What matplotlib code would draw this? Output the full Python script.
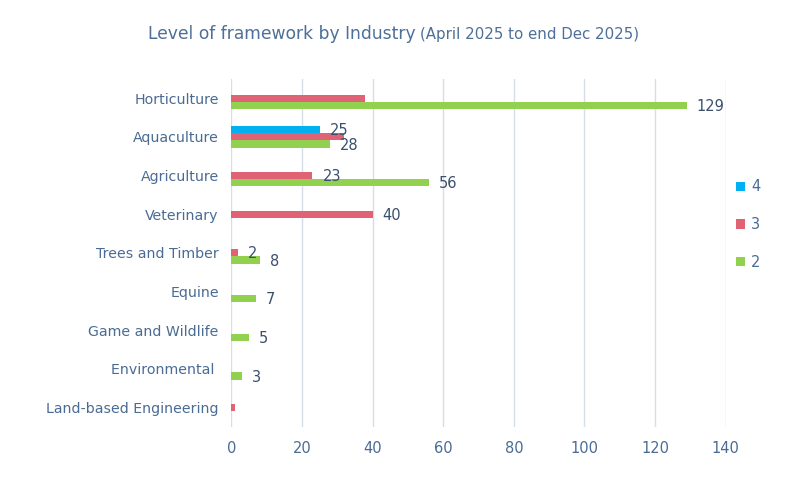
import matplotlib
matplotlib.use("Agg")
import matplotlib.pyplot as plt
import numpy as np

categories = ["Horticulture", "Aquaculture", "Agriculture", "Veterinary",
              "Trees and Timber", "Equine", "Game and Wildlife", "Environmental ",
              "Land-based Engineering"]
level4 = [0, 25, 0, 0, 0, 0, 0, 0, 0]
level3 = [38, 32, 23, 40, 2, 0, 0, 0, 1]
level2 = [129, 28, 56, 0, 8, 7, 5, 3, 0]
# which values carry a data label (as in the reference)
show4 = [False, True, False, False, False, False, False, False, False]
show3 = [False, False, True, True, True, False, False, False, False]
show2 = [True, True, True, False, True, True, True, True, False]
x_ticks = [0, 20, 40, 60, 80, 100, 120, 140]

plt.rcParams['font.family'] = ['DejaVu Sans']
tick_col = "#4A6B94"
lab_col = "#3A4F6E"
title_col = "#4E6F98"
grid_col = "#D5DEE8"
c4, c3, c2 = "#00B0F0", "#E06275", "#92D050"

fig = plt.figure(figsize=(8.1, 4.78), dpi=100)
ax = fig.add_axes([0.2855, 0.107, 0.6105, 0.728])

y = np.arange(len(categories))
h = 0.185
series = [(level4, show4, c4, -h, "4"), (level3, show3, c3, 0.0, "3"), (level2, show2, c2, h, "2")]
handles = []
for vals, show, col, off, name in series:
    bars = ax.barh(y + off, vals, height=h, color=col, label=name, zorder=3)
    handles.append(bars)
    for yi, v, s in zip(y, vals, show):
        if s:
            ax.annotate(str(v), xy=(v, yi + off), xytext=(10, -1), textcoords="offset pixels",
                        va="center", ha="left", fontsize=10.5, color=lab_col, zorder=4)

ax.set_xlim(0, 140)
ax.set_ylim(len(categories) - 0.5, -0.5)
ax.set_xticks(x_ticks)
ax.set_yticks(y)
ax.set_yticklabels(categories)
ax.tick_params(axis="x", colors=tick_col, labelsize=10.5, length=0, pad=10)
ax.tick_params(axis="y", colors=tick_col, labelsize=10.2, length=0, pad=9)
ax.xaxis.grid(True, color=grid_col, linewidth=1, zorder=0)
for s in ax.spines.values():
    s.set_visible(False)

leg = fig.legend(handles=handles, labels=["4", "3", "2"], loc="upper left",
                 bbox_to_anchor=(0.893, 0.652), frameon=False, fontsize=10.5,
                 handlelength=0.6, handleheight=0.6, handletextpad=0.4,
                 labelspacing=1.55, labelcolor=tick_col)

t1 = fig.text(0.183, 0.928, "Level of framework by Industry", fontsize=12.3, color=title_col,
              ha="left", va="center")
fig.canvas.draw()
bb = t1.get_window_extent(renderer=fig.canvas.get_renderer())
x2 = (bb.x1 + 4) / fig.bbox.width
fig.text(x2, 0.928, "(April 2025 to end Dec 2025)", fontsize=10.8, color=title_col,
         ha="left", va="center")

fig.savefig("out.png", dpi=100)
